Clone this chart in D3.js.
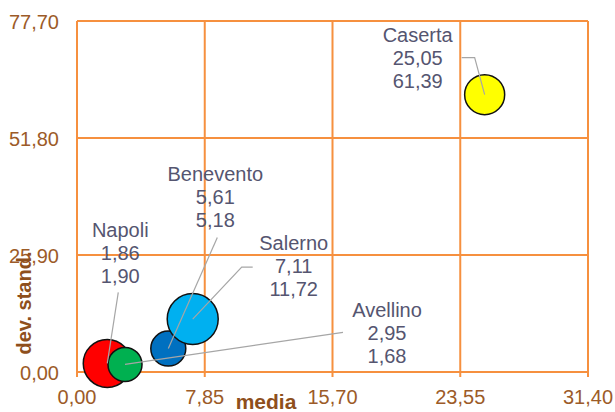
<!DOCTYPE html>
<html><head><meta charset="utf-8">
<script src="https://cdn.jsdelivr.net/npm/d3@7/dist/d3.min.js"></script>
<style>body{margin:0;background:#fff}svg{display:block}text{font-family:"Liberation Sans",Arial,sans-serif}</style>
</head><body><svg id="c" width="615" height="412"></svg>
<script>
const provinces = ["Napoli", "Avellino", "Benevento", "Salerno", "Caserta"];
const media = [1.86, 2.95, 5.61, 7.11, 25.05];
const devStand = [1.90, 1.68, 5.18, 11.72, 61.39];
const bubbleSize = [576, 289, 306, 650, 400];
const colors = ["#FF0000", "#00B050", "#0070C0", "#00B0F0", "#FFFF00"];
const xTicks = [0, 7.85, 15.70, 23.55, 31.40];
const yTicks = [0, 25.90, 51.80, 77.70];
// label layout (pixel offsets from bubble centre): label centre, first baseline, leader points
const labelLayout = [
  {lx: 13, ly: -126, pts: [[11, -71]]},
  {lx: 262, ly: -47, pts: [[218, -32]]},
  {lx: 47, ly: -168, pts: [[49, -111]]},
  {lx: 101, ly: -69, pts: [[49, -52], [60, -52]]},
  {lx: -67, ly: -53, pts: [[-10, -37], [-23, -37]]}
];

const fmt = v => d3.format(".2f")(v).replace(".", ",");
const svg = d3.select("#c");
const L = 77, R = 588, T = 21, B = 372;
const x = d3.scaleLinear().domain([0, 31.40]).range([L, R]);
const y = d3.scaleLinear().domain([0, 77.70]).range([B, T]);
const r = d3.scaleSqrt().domain([0, 650]).range([0, 25.5]);
const grid = "#F6903F";
const tickCol = "#9C5B28";

// grid
svg.append("g").selectAll("line").data(xTicks).join("line")
  .attr("x1", d => x(d)).attr("x2", d => x(d)).attr("y1", T).attr("y2", B + 5)
  .attr("stroke", grid).attr("stroke-width", 2);
svg.append("g").selectAll("line").data(yTicks).join("line")
  .attr("x1", L).attr("x2", R).attr("y1", d => y(d)).attr("y2", d => y(d))
  .attr("stroke", grid).attr("stroke-width", 2);

// tick labels
svg.append("g").selectAll("text").data(xTicks).join("text")
  .attr("x", d => x(d)).attr("y", 404).attr("text-anchor", "middle")
  .attr("font-size", 20).attr("fill", tickCol).text(fmt);
svg.append("g").selectAll("text").data(yTicks).join("text")
  .attr("x", 59).attr("y", d => y(d) + 8).attr("text-anchor", "end")
  .attr("font-size", 20).attr("fill", tickCol).text(fmt);

// bubbles
const data = provinces.map((p, i) => ({p, mx: media[i], sd: devStand[i], s: bubbleSize[i], c: colors[i], lay: labelLayout[i]}));
svg.append("g").selectAll("circle").data(data).join("circle")
  .attr("cx", d => x(d.mx)).attr("cy", d => y(d.sd)).attr("r", d => r(d.s))
  .attr("fill", d => d.c).attr("stroke", "#111").attr("stroke-width", 1.5);

// leader lines
svg.append("g").selectAll("path").data(data).join("path")
  .attr("d", d => {
    const cx = x(d.mx), cy = y(d.sd);
    return "M" + cx + "," + cy + d.lay.pts.map(p => "L" + (cx + p[0]) + "," + (cy + p[1])).join("");
  })
  .attr("fill", "none").attr("stroke", "#A6A6A6").attr("stroke-width", 1.2);

// data labels
const lab = svg.append("g").selectAll("text").data(data).join("text")
  .attr("text-anchor", "middle").attr("font-size", 20).attr("fill", "#555570")
  .attr("transform", d => `translate(${x(d.mx) + d.lay.lx},${y(d.sd) + d.lay.ly})`);
lab.each(function(d) {
  const t = d3.select(this);
  [d.p, fmt(d.mx), fmt(d.sd)].forEach((s, k) => t.append("tspan").attr("x", 0).attr("y", k * 23).text(s));
});

// axis titles
svg.append("text").attr("x", 266).attr("y", 409).attr("text-anchor", "middle")
  .attr("font-size", 21).attr("font-weight", "bold").attr("fill", "#8E4F1C").text("media");
svg.append("text").attr("transform", "translate(31,303) rotate(-90)").attr("text-anchor", "middle")
  .attr("font-size", 20).attr("font-weight", "bold").attr("fill", "#8E4F1C").text("dev. stand.");
</script></body></html>
